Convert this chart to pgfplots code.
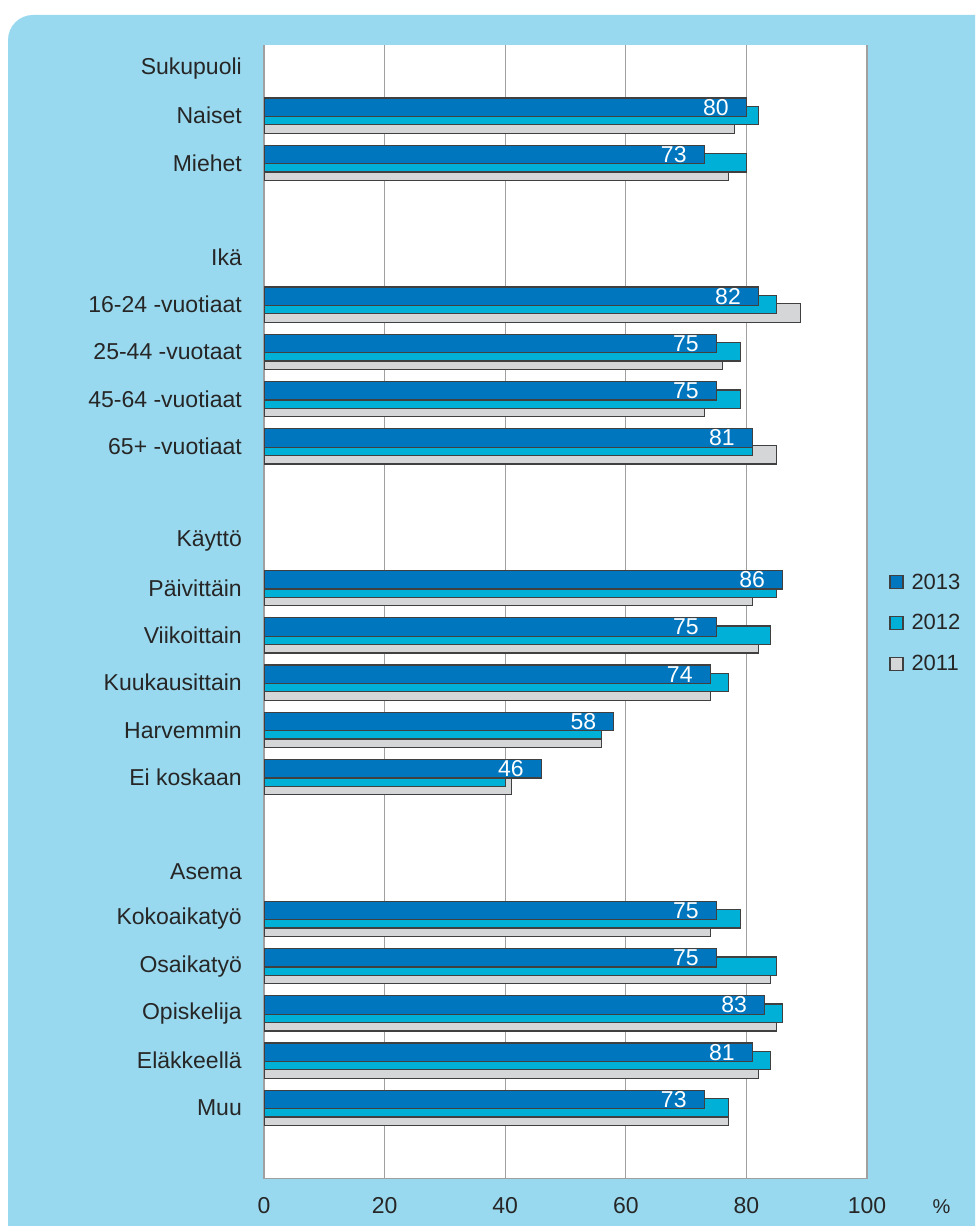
\documentclass[border=0pt]{standalone}
\usepackage{pgfplots}
\usepackage{pgfplotstable}
\pgfplotsset{compat=1.18}
\usepackage{fontspec}
\setmainfont{Liberation Sans}
\definecolor{bgblue}{RGB}{153,217,239}
\definecolor{c13}{RGB}{0,118,190}
\definecolor{c12}{RGB}{0,176,214}
\definecolor{c11}{RGB}{212,214,216}
\definecolor{barline}{RGB}{64,64,64}
\definecolor{txt}{RGB}{38,38,38}
\definecolor{gridc}{RGB}{160,160,160}

\pgfplotstableread{
pos v13 v12 v11
-1 80 82 78
-2 73 80 77
-5 82 85 89
-6 75 79 76
-7 75 79 73
-8 81 81 85
-11 86 85 81
-12 75 84 82
-13 74 77 74
-14 58 56 56
-15 46 40 41
-18 75 79 74
-19 75 85 84
-20 83 86 85
-21 81 84 82
-22 73 77 77
}\datatable

\begin{document}
\begin{tikzpicture}[x=1pt,y=1pt]
\useasboundingbox (0,0) rectangle (975,1226);
\fill[white] (0,0) rectangle (975,1226);
\begin{scope}
\clip (0,0) rectangle (975,1226);
\fill[bgblue, rounded corners=25pt] (8,-40) rectangle (1020,1211);
\end{scope}
\begin{axis}[
  at={(264pt,47.3pt)}, anchor=south west,
  scale only axis, width=603pt, height=1134pt,
  xmin=0, xmax=100, ymin=-23.5, ymax=0.5,
  xbar, bar width=0.39,
  axis background/.style={fill=white},
  xtick={0,20,...,100},
  ytick={0,-1,...,-22},
  yticklabels={Sukupuoli,Naiset\ ,Miehet,{},Ikä,16-24 -vuotiaat,25-44 -vuotaat,45-64 -vuotiaat,65+ -vuotiaat,{},Käyttö,Päivittäin,Viikoittain,Kuukausittain,Harvemmin,Ei koskaan,{},Asema,Kokoaikatyö,Osaikatyö,Opiskelija,Eläkkeellä,Muu},
  xmajorgrids, grid style={gridc, line width=1.3pt},
  axis x line*=bottom, axis y line*=left,
  axis line style={gridc, line width=1.3pt, -},
  tick style={draw=none}, major tick length=0pt,
  /pgf/number format/assume math mode=true,
  ticklabel style={font=\fontsize{23}{27}\selectfont, text=txt},
  yticklabel style={inner sep=0pt, xshift=-22pt},
  xticklabel style={inner sep=0pt, yshift=-19pt},
  reverse legend,
  legend cell align=left,
  legend style={at={(1,0.49)}, anchor=west, xshift=22pt, draw=none, fill=none,
    font=\fontsize{22}{26}\selectfont, text=txt, inner sep=0pt,
    row sep=20pt,
    nodes={inner sep=2pt},
    /tikz/every odd column/.append style={column sep=6pt}},
  legend image code/.code={\draw[#1, draw=barline, line width=1.3pt] (0pt,-6.5pt) rectangle (13pt,6.5pt);},
]
\addplot[fill=c11, draw=barline, line width=1.3pt, bar shift=-0.177] table[x=v11, y=pos]{\datatable};
\addplot[fill=c12, draw=barline, line width=1.3pt, bar shift=0] table[x=v12, y=pos]{\datatable};
\addplot[fill=c13, draw=barline, line width=1.3pt, bar shift=0.177,
  nodes near coords,
  every node near coord/.append style={anchor=east, xshift=-17pt, inner sep=0pt, text=white, font=\fontsize{23}{27}\selectfont}
  ] table[x=v13, y=pos]{\datatable};
\legend{2011,2012,2013}
\end{axis}
\node[text=txt, font=\fontsize{20}{24}\selectfont] at (941.5,19) {\%};
\end{tikzpicture}
\end{document}
